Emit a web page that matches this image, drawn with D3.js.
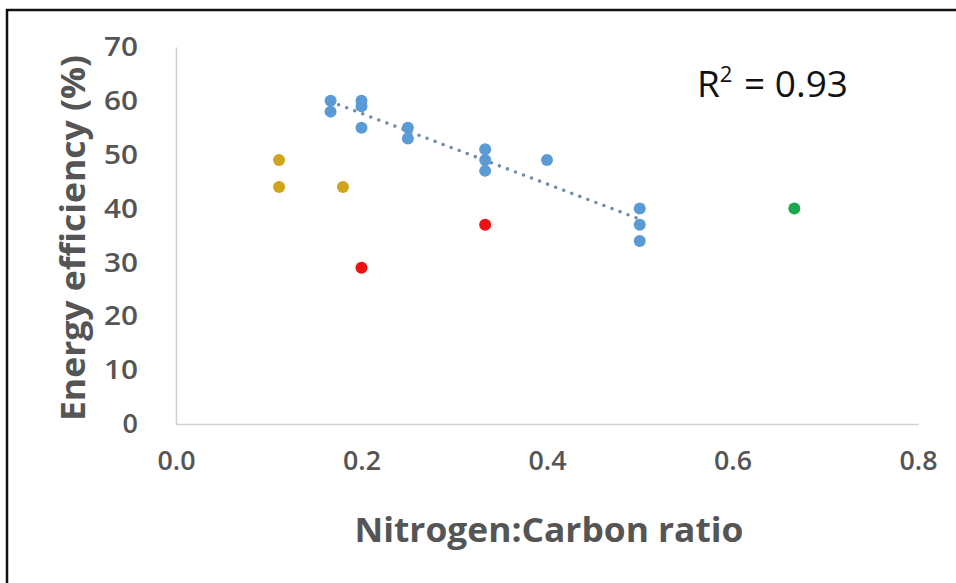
<!DOCTYPE html>
<html>
<head>
<meta charset="utf-8">
<script src="https://cdn.jsdelivr.net/npm/d3@7"></script>
<style>
  body { margin: 0; background: #fff; }
  svg { display: block; }
</style>
</head>
<body>
<div id="chart"></div>
<script>
// series
const blueX = [1/6, 1/6, 0.2, 0.2, 0.2, 0.25, 0.25, 1/3, 1/3, 1/3, 0.4, 0.5, 0.5, 0.5]
const blueY = [60, 58, 60, 59, 55, 55, 53, 51, 49, 47, 49, 40, 37, 34]
const yellowX = [1/9, 1/9, 0.18]
const yellowY = [49, 44, 44]
const redX = [0.2, 1/3]
const redY = [29, 37]
const greenX = [2/3]
const greenY = [40]

const xTicks = [0, 0.2, 0.4, 0.6, 0.8]
const yTicks = [0, 10, 20, 30, 40, 50, 60, 70]
const xTitle = "Nitrogen:Carbon ratio"
const yTitle = "Energy efficiency (%)"
const rSquared = "0.93"

const width = 956
const height = 583
const margin = {top: 47, right: 38, bottom: 159, left: 176}

const svg = d3.select("#chart").append("svg")
  .attr("width", width)
  .attr("height", height)

// cropped frame: only top and left edges visible
svg.append("path")
  .attr("d", `M7,${height} V10 H${width}`)
  .attr("fill", "none")
  .attr("stroke", "#111")
  .attr("stroke-width", 2.5)

const x = d3.scaleLinear().domain([0, 0.8]).range([margin.left, width - margin.right])
const y = d3.scaleLinear().domain([0, 70]).range([height - margin.bottom, margin.top])

const font = "'Open Sans', 'Liberation Sans', sans-serif"
const grey = "#555"

const xAxis = svg.append("g")
  .attr("transform", `translate(0,${y(0)})`)
  .call(d3.axisBottom(x).tickValues(xTicks).tickFormat(d3.format(".1f")).tickSize(0).tickPadding(27))
const yAxis = svg.append("g")
  .attr("transform", `translate(${x(0)},0)`)
  .call(d3.axisLeft(y).tickValues(yTicks).tickSize(0).tickPadding(38))

for (const ax of [xAxis, yAxis]) {
  ax.select(".domain").attr("stroke", "#d0d0d0").attr("stroke-width", 1.5)
  ax.selectAll("text")
    .attr("fill", grey)
    .style("font-family", font)
    .style("font-size", "27px")
    .style("font-weight", "600")
}
xAxis.selectAll("text").attr("textLength", 38).attr("lengthAdjust", "spacingAndGlyphs")
yAxis.selectAll("text").attr("text-anchor", "end")
  .filter(d => d > 0).attr("textLength", 34).attr("lengthAdjust", "spacingAndGlyphs")

// trendline through the blue series (least squares)
const mx = d3.mean(blueX), my = d3.mean(blueY)
const slope = d3.sum(blueX, (v, i) => (v - mx) * (blueY[i] - my)) / d3.sum(blueX, v => (v - mx) ** 2)
const icpt = my - slope * mx
const xr = d3.extent(blueX)
svg.append("line")
  .attr("x1", x(xr[0])).attr("y1", y(icpt + slope * xr[0]))
  .attr("x2", x(xr[1])).attr("y2", y(icpt + slope * xr[1]))
  .attr("stroke", "#6f8cb0")
  .attr("stroke-width", 3.6)
  .attr("stroke-linecap", "round")
  .attr("stroke-dasharray", "0 8.6")

const series = [
  {xs: yellowX, ys: yellowY, color: "#d2a41c"},
  {xs: redX, ys: redY, color: "#ee1111"},
  {xs: greenX, ys: greenY, color: "#1aa84f"},
  {xs: blueX, ys: blueY, color: "#5b9bd5"}
]
series.forEach(s => {
  svg.append("g").selectAll("circle")
    .data(s.xs.map((v, i) => [v, s.ys[i]]))
    .enter().append("circle")
    .attr("cx", d => x(d[0]))
    .attr("cy", d => y(d[1]))
    .attr("r", 6)
    .attr("fill", s.color)
})

// axis titles
svg.append("text")
  .attr("x", (x(0) + x(0.8)) / 2 + 2)
  .attr("y", 542)
  .attr("text-anchor", "middle")
  .attr("textLength", 389)
  .attr("lengthAdjust", "spacingAndGlyphs")
  .attr("fill", grey)
  .style("font-family", font)
  .style("font-size", "34px")
  .style("font-weight", "700")
  .text(xTitle)

svg.append("text")
  .attr("transform", `translate(85,${238}) rotate(-90)`)
  .attr("text-anchor", "middle")
  .attr("textLength", 366)
  .attr("lengthAdjust", "spacingAndGlyphs")
  .attr("fill", grey)
  .style("font-family", font)
  .style("font-size", "34px")
  .style("font-weight", "700")
  .text(yTitle)

// R² label
const r2 = svg.append("text")
  .attr("x", 697)
  .attr("y", 97)
  .attr("fill", "#111")
  .style("font-family", font)
  .style("font-size", "37px")
r2.append("tspan").text("R")
r2.append("tspan").attr("dy", -15).style("font-size", "22px").text("2")
r2.append("tspan").attr("dy", 15).attr("dx", 2).text(" = " + rSquared)
</script>
</body>
</html>
